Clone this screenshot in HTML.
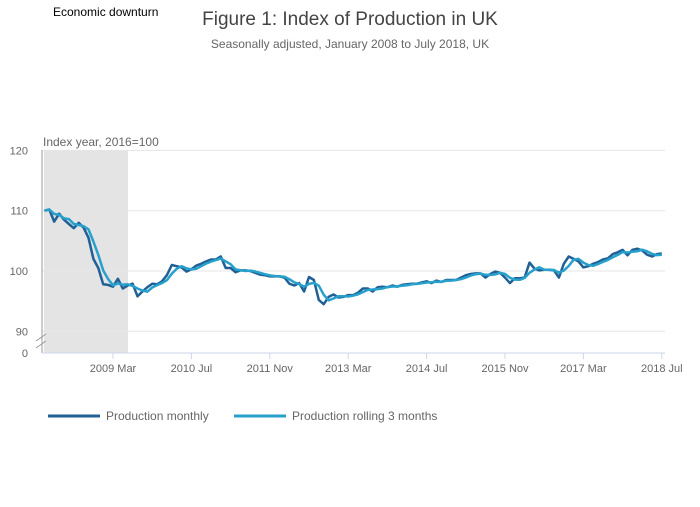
<!DOCTYPE html>
<html><head><meta charset="utf-8"><style>
body{margin:0;background:#fff;font-family:"Liberation Sans",sans-serif;}
svg text{font-family:"Liberation Sans",sans-serif;}
</style></head><body>
<svg id="chart" width="700" height="502" viewBox="0 0 700 502">
<text x="53" y="16" font-size="12" fill="#000">Economic downturn</text>
<text x="350" y="25" font-size="19" fill="#444" text-anchor="middle">Figure 1: Index of Production in UK</text>
<text x="350" y="48" font-size="12" fill="#666" text-anchor="middle">Seasonally adjusted, January 2008 to July 2018, UK</text>
<rect x="44" y="150" width="84" height="203" fill="#e4e4e4"/>
<g id="grid"></g>
<line x1="42" y1="150" x2="42" y2="353" stroke="#999"/>
<line x1="42" y1="353" x2="665" y2="353" stroke="#ccd6eb"/>
<g><line x1="36" y1="341" x2="46" y2="334" stroke="#999"/><line x1="36" y1="348" x2="46" y2="341" stroke="#999"/></g>
<text x="43" y="146" font-size="12" fill="#666">Index year, 2016=100</text>
<g id="xticks"></g>
<g id="series"></g>
<g>
<line x1="48" y1="416" x2="100" y2="416" stroke="#206095" stroke-width="3"/>
<text x="106" y="420" font-size="12" fill="#666">Production monthly</text>
<line x1="234" y1="416" x2="286" y2="416" stroke="#27a0cc" stroke-width="3"/>
<text x="292" y="420" font-size="12" fill="#666">Production rolling 3 months</text>
</g>
</svg>
<script>
const yTicks=[90,100,110,120];
const xTickLabels=["2009 Mar","2010 Jul","2011 Nov","2013 Mar","2014 Jul","2015 Nov","2017 Mar","2018 Jul"];
const xTickIndex=[14,30,46,62,78,94,110,126];
const monthly=[110,110.2,108.2,109.5,108.5,107.8,107.1,108,107.2,105.5,102,100.5,
97.8,97.7,97.4,98.7,97.1,97.6,97.9,95.8,96.6,97.3,97.9,97.8,
98.3,99.3,101,100.8,100.6,99.9,100.3,100.9,101.2,101.6,101.9,101.9,
102.4,100.5,100.5,99.8,100.1,100.1,100,99.7,99.4,99.3,99.1,99.1,
99.1,98.9,97.9,97.6,98,96.6,99,98.5,95.2,94.5,95.7,96.1,
95.6,95.7,96,96,96.4,97.1,97.1,96.6,97.3,97.4,97.3,97.6,
97.4,97.7,97.8,97.9,97.9,98.1,98.3,98,98.4,98.2,98.5,98.5,
98.5,98.9,99.3,99.5,99.6,99.6,98.9,99.5,99.9,99.7,98.9,98,
98.8,98.8,98.9,101.4,100.4,100.1,100.2,100.2,100.1,98.9,101.2,102.4,
102,101.6,100.6,100.8,101.2,101.5,101.9,102.1,102.8,103.1,103.5,102.6,
103.5,103.7,103.4,102.7,102.4,102.8,102.9];
const rolling=monthly.map((v,i)=>i<2?v:(monthly[i]+monthly[i-1]+monthly[i-2])/3);
const NS="http://www.w3.org/2000/svg";
function xs(i){return 44.4+i*(617.4/126);}
function ys(v){return 271-(v-100)*6.03;}
const grid=document.getElementById('grid');
yTicks.forEach(t=>{
 const l=document.createElementNS(NS,'line');
 l.setAttribute('x1',42);l.setAttribute('x2',665);l.setAttribute('y1',ys(t));l.setAttribute('y2',ys(t));
 l.setAttribute('stroke','#e6e6e6');
 
 
 grid.appendChild(l);
 const tx=document.createElementNS(NS,'text');
 tx.setAttribute('x',28);tx.setAttribute('y',ys(t)+4);tx.setAttribute('font-size','11');tx.setAttribute('fill','#666');tx.setAttribute('text-anchor','end');
 tx.textContent=t;
 
 
 grid.appendChild(tx);
});
const z=document.createElementNS(NS,'text');
z.setAttribute('x',28);z.setAttribute('y',357);z.setAttribute('font-size','11');z.setAttribute('fill','#666');z.setAttribute('text-anchor','end');z.textContent='0';


grid.appendChild(z);
const xt=document.getElementById('xticks');
xTickLabels.forEach((lab,k)=>{
 const x=xs(xTickIndex[k]);
 const l=document.createElementNS(NS,'line');
 l.setAttribute('x1',x);l.setAttribute('x2',x);l.setAttribute('y1',353);l.setAttribute('y2',359);l.setAttribute('stroke','#ccd6eb');
 
 
 xt.appendChild(l);
 const t=document.createElementNS(NS,'text');
 t.setAttribute('x',x);t.setAttribute('y',372);t.setAttribute('font-size','11');t.setAttribute('fill','#666');t.setAttribute('text-anchor','middle');
 t.textContent=lab;
 
 
 xt.appendChild(t);
});
const sg=document.getElementById('series');
function line(arr,color,name){
 const p=document.createElementNS(NS,'polyline');
 p.setAttribute('points',arr.map((v,i)=>xs(i).toFixed(1)+','+ys(v).toFixed(1)).join(' '));
 p.setAttribute('fill','none');p.setAttribute('stroke',color);p.setAttribute('stroke-width','2.5');p.setAttribute('stroke-linejoin','round');
 
 
 sg.appendChild(p);
}
line(monthly,'#206095','production-monthly-line');
line(rolling,'#27a0cc','production-rolling-line');
</script>
</body></html>
